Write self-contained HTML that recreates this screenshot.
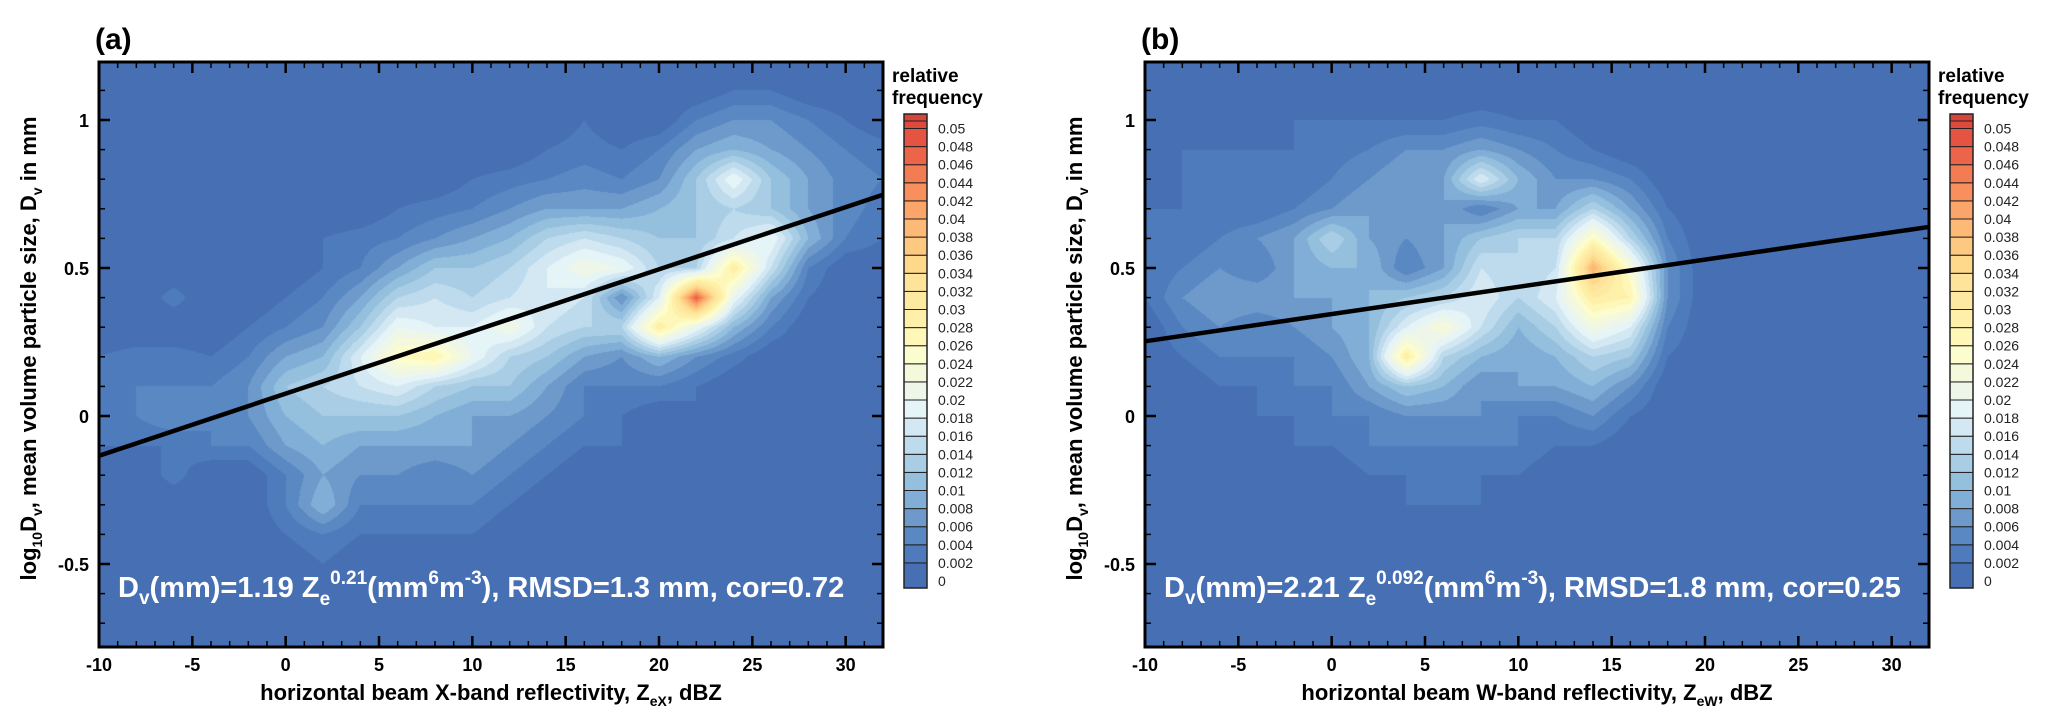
<!DOCTYPE html>
<html><head><meta charset="utf-8">
<style>
html,body{margin:0;padding:0;background:#fff;width:2067px;height:724px;overflow:hidden;font-family:"Liberation Sans",Arial,sans-serif}
#wrap{position:relative;width:2067px;height:724px}
canvas{position:absolute}
svg{position:absolute;left:0;top:0}
</style></head><body>
<div id="wrap">
<canvas id="cva" width="784" height="585" style="left:99px;top:62px"></canvas>
<canvas id="cvb" width="784" height="585" style="left:1145px;top:62px"></canvas>
<svg id="sv" width="2067" height="724"></svg>
</div>
<script>
// ---- data ----
const xNodes=[-10,-8,-6,-4,-2,0,2,4,6,8,10,12,14,16,18,20,22,24,26,28,30,32];
const yNodes=[1.2,1.1,1.0,0.9,0.8,0.7,0.6,0.5,0.4,0.3,0.2,0.1,0.0,-0.1,-0.2,-0.3,-0.4,-0.5,-0.6,-0.7,-0.8];
// relative frequency x 0.001, rows follow yNodes, columns follow xNodes
const freqA=[
[0,0,0,0,0,0,0,0,0,0,0,0,0,0,0,0,0,0,0,0,0,0],
[0,0,0,0,0,0,0,0,0,0,0,0,0,0,0,0,0,2,2,0,0,0],
[0,0,0,0,0,0,0,0,0,0,0,0,0,2,0,0,4,6,6,4,2,0],
[0,0,0,0,0,0,0,0,0,0,0,0,2,3,2,4,8,10,8,6,4,3],
[0,0,0,0,0,0,0,0,0,0,2,3,4,5,4,6,12,20,12,8,5,4],
[0,0,0,0,0,0,0,0,2,3,4,6,8,8,8,10,12,14,12,8,5,3],
[0,0,0,0,0,0,2,3,4,6,8,10,14,16,14,12,12,16,20,10,4,2],
[0,0,0,0,0,0,2,4,8,12,12,14,18,22,20,14,14,30,16,4,0,0],
[0,0,3,0,0,2,4,8,14,16,14,16,18,16,6,18,48,20,8,2,0,0],
[0,0,0,0,2,4,6,12,20,18,18,22,16,14,14,30,20,10,4,0,0,0],
[2,3,3,2,4,8,10,18,26,28,20,14,12,8,6,10,6,3,0,0,0,0],
[2,4,4,4,6,12,14,16,18,14,12,12,8,4,4,4,2,0,0,0,0,0],
[2,4,6,4,6,10,12,12,12,10,8,8,6,4,2,0,2,0,0,0,0,0],
[2,2,2,4,4,8,10,8,8,8,8,6,4,2,2,0,0,0,0,0,0,0],
[0,0,3,0,0,4,8,6,6,4,6,4,2,0,2,0,0,0,0,0,0,0],
[0,0,0,0,0,4,10,4,4,4,4,2,0,0,0,0,0,0,0,0,0,0],
[0,0,0,0,0,2,4,2,2,2,2,0,0,0,0,0,0,0,0,0,0,0],
[0,0,0,0,0,0,2,0,0,0,0,0,0,0,0,0,0,0,0,0,0,0],
[0,0,0,0,0,0,0,0,0,0,0,0,0,0,0,0,0,0,0,0,0,0],
[0,0,0,0,0,0,0,0,0,0,0,0,0,0,0,0,0,0,0,0,0,0],
[0,0,0,0,0,0,0,0,0,0,0,0,0,0,0,0,0,0,0,0,0,0]];
const freqB=[
[0,0,0,0,0,0,0,0,0,0,0,0,0,0,0,0,0,0,0,0,0,0],
[0,0,0,0,0,0,0,0,0,0,0,0,0,0,0,0,0,0,0,0,0,0],
[0,0,0,0,2,2,2,2,2,3,2,2,0,0,0,0,0,0,2,0,0,0],
[0,2,2,2,2,3,4,6,6,8,6,4,2,0,0,0,0,0,0,0,0,0],
[0,2,4,2,2,4,6,8,8,18,10,6,6,4,0,0,0,0,0,0,0,0],
[2,2,2,2,4,6,8,6,8,4,8,8,14,8,2,0,0,0,0,0,0,0],
[2,2,4,6,8,14,8,6,8,12,14,14,26,14,4,0,0,0,0,0,0,0],
[2,4,6,4,8,10,10,4,8,16,14,16,40,24,6,0,0,0,0,0,0,0],
[2,6,8,8,8,8,10,12,14,18,14,18,30,28,6,0,0,0,0,0,0,0],
[0,4,6,4,6,8,10,18,24,16,10,14,22,18,4,0,0,0,0,0,0,0],
[0,2,4,4,4,6,10,30,14,10,8,10,14,12,2,0,0,0,0,0,0,0],
[0,0,2,2,4,4,8,12,10,6,8,8,10,6,0,0,0,0,0,0,0,0],
[0,0,0,2,2,4,4,6,6,6,4,4,6,2,0,0,0,0,0,0,0,0],
[0,0,2,0,2,2,4,4,4,4,4,2,2,0,0,0,0,0,0,0,0,0],
[0,0,2,2,2,0,2,2,4,2,2,0,0,0,0,0,0,0,0,0,0,0],
[0,0,0,0,0,0,0,2,2,2,0,0,0,0,0,0,0,0,0,0,0,0],
[0,0,0,0,0,0,0,0,2,0,0,0,0,0,0,0,0,0,0,0,0,0],
[0,0,0,0,0,0,0,0,0,0,0,0,0,0,0,0,0,0,0,0,0,0],
[0,0,0,0,0,0,0,0,0,0,0,0,0,0,0,0,0,0,0,0,0,0],
[0,0,0,0,0,0,0,0,0,0,0,0,0,0,0,0,0,0,0,0,0,0],
[0,0,0,0,0,0,0,0,0,0,0,0,0,0,0,0,0,0,0,0,0,0]];
// power-law fit Dv = a * Ze^b  -> log10Dv = log10(a) + b*dBZ/10
const fitA=[1.19,0.21];
const fitB=[2.21,0.092];
const levelLabels=["0","0.002","0.004","0.006","0.008","0.01","0.012","0.014","0.016","0.018","0.02","0.022","0.024","0.026","0.028","0.03","0.032","0.034","0.036","0.038","0.04","0.042","0.044","0.046","0.048","0.05"];
const levelColors=["#4670b3","#4d7bbb","#5a88c2","#6d9acb","#80aed6","#94bfdd","#a8cde5","#bddbec","#d3e8f3","#e5f4f6","#eef6ea","#f5f9dc","#fcfdce","#fef7b8","#fef0a8","#fee9a0","#fee39a","#fed98c","#fdc981","#fdb976","#fca56a","#f88f5c","#f37c52","#ec6449","#e55442","#df4a3c","#d9443a"];
const xTicks=[-10,-5,0,5,10,15,20,25,30];
const yTicks=[-0.5,0,0.5,1];
const yTickLabels=["-0.5","0","0.5","1"];

// ---- geometry ----
const PW=784,PH=585,TOP=62;
const X0=-10,X1=32;
function sx(v){return (v-X0)/(X1-X0)*PW;}
function sy(v){return 354-v*296;}

function valueAt(grid,x,y){
  let fi=(x-xNodes[0])/2, fj=(yNodes[0]-y)/0.1;
  if(fi<0)fi=0; if(fj<0)fj=0;
  let i=Math.min(Math.floor(fi),xNodes.length-2), j=Math.min(Math.floor(fj),yNodes.length-2);
  let u=fi-i, w=fj-j;
  if(u>1)u=1; if(w>1)w=1;
  const a=grid[j][i],b=grid[j][i+1],c=grid[j+1][i],d=grid[j+1][i+1];
  return (a*(1-u)*(1-w)+b*u*(1-w)+c*(1-u)*w+d*u*w)*0.001;
}
function hex(c){return [parseInt(c.substr(1,2),16),parseInt(c.substr(3,2),16),parseInt(c.substr(5,2),16)];}
const rgb=levelColors.map(hex);
function drawMap(id,grid){
  const cv=document.getElementById(id),ctx=cv.getContext('2d');
  const img=ctx.createImageData(PW,PH);
  for(let py=0;py<PH;py++){
    const y=(354-(py+0.5))/296;
    for(let px=0;px<PW;px++){
      const x=X0+(px+0.5)/PW*(X1-X0);
      const v=valueAt(grid,x,y);
      let k=Math.floor(v/0.002+1e-9); if(k<0)k=0; if(k>26)k=26;
      const c=rgb[k],o=(py*PW+px)*4;
      img.data[o]=c[0];img.data[o+1]=c[1];img.data[o+2]=c[2];img.data[o+3]=255;
    }
  }
  ctx.putImageData(img,0,0);
}
drawMap('cva',freqA);
drawMap('cvb',freqB);

const NS="http://www.w3.org/2000/svg";
const sv=document.getElementById('sv');
function el(tag,attrs,parent){const e=document.createElementNS(NS,tag);for(const k in attrs)e.setAttribute(k,attrs[k]);(parent||sv).appendChild(e);return e;}

function panel(L,fit,letter,band,sub,eq){
  const g=el('g',{});
  
  
  const ln=el('line',{x1:L+sx(X0),y1:TOP+sy(Math.log10(fit[0])+fit[1]*X0/10),x2:L+sx(X1),y2:TOP+sy(Math.log10(fit[0])+fit[1]*X1/10),stroke:'#000','stroke-width':4.5},g);
  
  
  for(let v=-10;v<=32;v++){
    const maj=v%5===0,len=maj?11:6,x=L+sx(v);
    el('line',{x1:x,y1:TOP+PH,x2:x,y2:TOP+PH-len,stroke:'#000','stroke-width':maj?2.5:1.5},g);
    el('line',{x1:x,y1:TOP,x2:x,y2:TOP+len,stroke:'#000','stroke-width':maj?2.5:1.5},g);
  }
  for(let k=-7;k<=11;k++){
    const v=k/10,maj=k%5===0,len=maj?11:6,y=TOP+sy(v);
    el('line',{x1:L,y1:y,x2:L+len,y2:y,stroke:'#000','stroke-width':maj?2.5:1.5},g);
    el('line',{x1:L+PW,y1:y,x2:L+PW-len,y2:y,stroke:'#000','stroke-width':maj?2.5:1.5},g);
  }
  const fr=el('rect',{x:L,y:TOP,width:PW,height:PH,fill:'none',stroke:'#000','stroke-width':3},g);
  
  
  xTicks.forEach(v=>{
    const t=el('text',{x:L+sx(v),y:TOP+PH+24,'text-anchor':'middle','font-size':18,'font-weight':'bold'},g);
    t.textContent=String(v);
    
    
  });
  yTicks.forEach((v,i)=>{
    const t=el('text',{x:L-10,y:TOP+sy(v)+7,'text-anchor':'end','font-size':18,'font-weight':'bold'},g);
    t.textContent=yTickLabels[i];
    
    
  });
  const xt=el('text',{x:L+PW/2,y:700,'text-anchor':'middle','font-size':22,'font-weight':'bold'},g);
  xt.innerHTML='horizontal beam '+band+'-band reflectivity, Z<tspan font-size="14" dy="6">'+sub+'</tspan><tspan dy="-6">, dBZ</tspan>';
  
  
  const yt=el('text',{transform:'translate('+(L-63)+','+(TOP+PH/2-6)+') rotate(-90)','text-anchor':'middle','font-size':22,'font-weight':'bold'},g);
  yt.innerHTML='log<tspan font-size="14" dy="6">10</tspan><tspan dy="-6">D</tspan><tspan font-size="14" dy="6">v</tspan><tspan dy="-6">, mean volume particle size, D</tspan><tspan font-size="14" dy="6">v</tspan><tspan dy="-6"> in mm</tspan>';
  
  
  const lt=el('text',{x:L-4,y:49,'font-size':30,'font-weight':'bold'},g);
  lt.textContent='('+letter+')';
  
  
  const eqt=el('text',{x:L+19,y:597,'font-size':29,'font-weight':'bold',fill:'#fff'},g);
  eqt.innerHTML=eq;
  
  
  const cb=el('g',{},g);
  
  
  const CX=L+805,CW=23,base=581,step=18.1;
  el('rect',{x:CX,y:114,width:CW,height:base+7-114,fill:levelColors[26]},cb);
  for(let k=0;k<26;k++){
    const yTop=base-(k+1)*step, yBot=k===0?base+7:base-k*step;
    const r=el('rect',{x:CX,y:Math.max(yTop,121),width:CW,height:yBot-Math.max(yTop,121),fill:levelColors[k],stroke:'#222','stroke-width':1},cb);
    
    
    const t=el('text',{x:CX+34,y:base-k*step+5,'font-size':14,fill:'#222'},cb);
    t.textContent=levelLabels[k];
    
    
  }
  el('rect',{x:CX,y:114,width:CW,height:base+7-114,fill:'none',stroke:'#222','stroke-width':1.5},cb);
  const c1=el('text',{x:CX-12,y:82,'font-size':19,'font-weight':'bold'},cb);c1.textContent='relative';
  
  
  const c2=el('text',{x:CX-12,y:104,'font-size':19,'font-weight':'bold'},cb);c2.textContent='frequency';
  
  
}
panel(99,fitA,'a','X','eX','D<tspan font-size="19" dy="7">v</tspan><tspan dy="-7">(mm)=1.19 Z</tspan><tspan font-size="19" dy="8">e</tspan><tspan font-size="19" dy="-21">0.21</tspan><tspan dy="13">(mm</tspan><tspan font-size="19" dy="-13">6</tspan><tspan dy="13">m</tspan><tspan font-size="19" dy="-13">-3</tspan><tspan dy="13">), RMSD=1.3 mm, cor=0.72</tspan>');
panel(1145,fitB,'b','W','eW','D<tspan font-size="19" dy="7">v</tspan><tspan dy="-7">(mm)=2.21 Z</tspan><tspan font-size="19" dy="8">e</tspan><tspan font-size="19" dy="-21">0.092</tspan><tspan dy="13">(mm</tspan><tspan font-size="19" dy="-13">6</tspan><tspan dy="13">m</tspan><tspan font-size="19" dy="-13">-3</tspan><tspan dy="13">), RMSD=1.8 mm, cor=0.25</tspan>');
</script>
</body></html>
